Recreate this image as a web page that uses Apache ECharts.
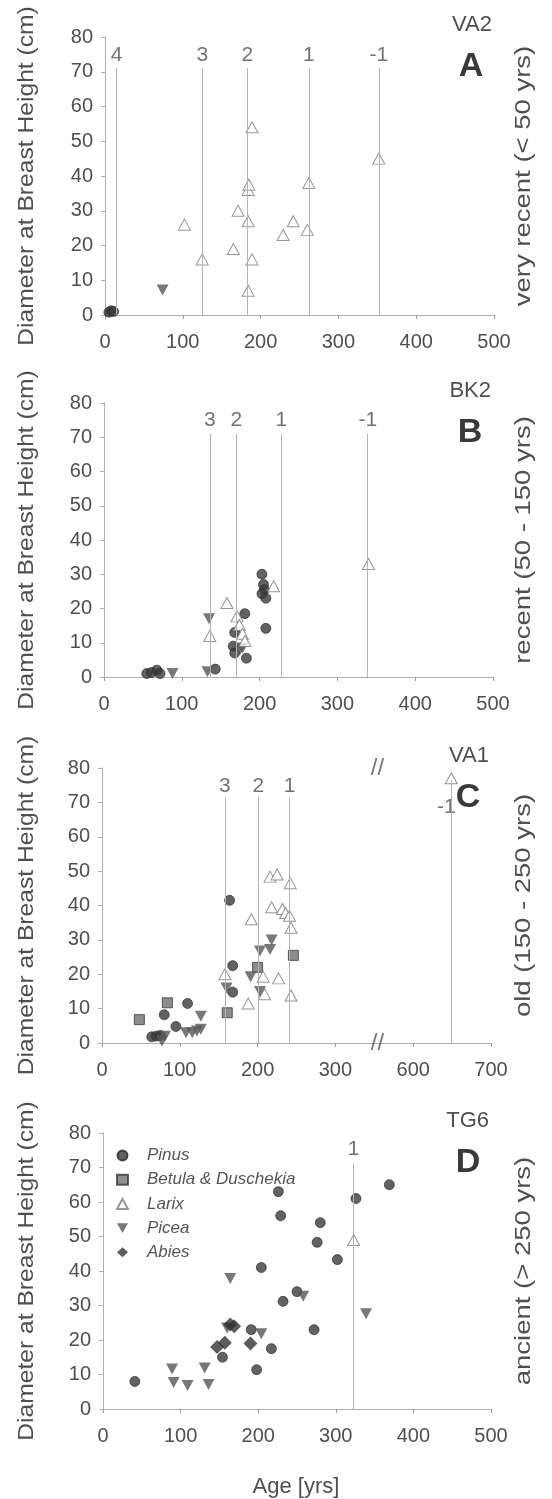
<!DOCTYPE html>
<html><head><meta charset="utf-8">
<script src="https://cdn.jsdelivr.net/npm/echarts@6/dist/echarts.min.js"></script>
<style>html,body{margin:0;padding:0;background:#fff}#c{width:552px;height:1499px}</style>
</head><body><div id="c"></div>
<script>
// ---------------- data ----------------
const ageTicks = [0, 100, 200, 300, 400, 500];
const dbhTicks = [0, 10, 20, 30, 40, 50, 60, 70, 80];
const speciesNames = ['Pinus', 'Betula & Duschekia', 'Larix', 'Picea', 'Abies'];
const siteCodes = ['VA2', 'BK2', 'VA1', 'TG6'];
const panelLetters = ['A', 'B', 'C', 'D'];
const ageClassLabels = ['very recent (< 50 yrs)', 'recent (50 - 150 yrs)', 'old (150 - 250 yrs)', 'ancient (> 250 yrs)'];
const yTitle = 'Diameter at Breast Height (cm)';
const xTitle = 'Age [yrs]';

// Panel A (VA2)
const pinusA = [[5, 0.8], [8, 1.2], [11, 1]];
const piceaA = [[74, 7.2]];
const larixA = [[102, 26], [125, 16], [165, 19], [171, 30], [184, 27], [184, 7], [184, 36], [185, 37.5], [189, 54], [189, 16], [229, 23], [242, 27], [260, 24.5], [262, 38], [352, 45]];
const lineAgesA = [15, 125, 183, 262, 352];
const lineNamesA = ['4', '3', '2', '1', '-1'];

// Panel B (BK2)
const pinusB = [[55, 1], [61, 1.3], [68, 2], [72, 1], [143, 2.3], [166, 9], [168, 7], [168, 13], [181, 18.5], [183, 5.5], [203, 30], [205, 27], [206, 25.5], [203, 24.3], [208, 23], [208, 14.2]];
const piceaB = [[88, 1], [133, 1.5], [135, 17], [175, 8], [178, 8.5]];
const larixB = [[136, 12], [158, 21.6], [171, 17.7], [174, 15.2], [178, 12.6], [181, 10.5], [218, 26.5], [340, 33]];
const lineAgesB = [136, 170, 228, 339];
const lineNamesB = ['3', '2', '1', '-1'];

// Panel C (VA1) - real ages; axis is broken between 300 and 600
const pinusC = [[64, 1.8], [70, 2], [75, 2.2], [80, 8.2], [95, 4.8], [110, 11.5], [164, 41.5], [168, 22.5], [168, 14.8]];
const betulaC = [[48, 6.8], [84, 11.7], [161, 8.8], [200, 22], [246, 25.5]];
const piceaC = [[77, 0.6], [81, 2], [108, 3], [116, 3], [122, 3.5], [127, 4], [127, 7.8], [160, 16], [191, 19.3], [203, 15], [203, 26.8], [216, 27.2], [218, 30]];
const larixC = [[158, 20], [188, 11.5], [192, 36], [207, 19.3], [209, 14.2], [216, 48.4], [225, 49], [218, 39.5], [232, 39], [236, 37.8], [227, 18.8], [241, 37], [242, 46.5], [243, 33.5], [243, 13.8], [649, 77]];
const lineAgesC = [158, 201, 241, 649];
const lineNamesC = ['3', '2', '1', '-1'];
const cAxisLabels = ['0', '100', '200', '300', '600', '700'];

// Panel D (TG6)
const pinusD = [[41, 8], [154, 15], [191, 23], [198, 11.4], [204, 41], [217, 17.5], [226, 63], [229, 56], [232, 31.2], [250, 34], [272, 23], [276, 48.3], [280, 54], [302, 43.3], [326, 61], [369, 65]];
const piceaD = [[89, 11.6], [91, 7.7], [109, 6.8], [131, 11.9], [136, 7.1], [160, 23.5], [164, 37.8], [204, 21.8], [258, 32.7], [339, 27.6]];
const abiesD = [[147, 18], [157, 19.2], [164, 24.5], [169, 24], [190, 19]];
const larixD = [[323, 49]];
const lineAgesD = [323];
const lineNamesD = ['1'];

// ---------------- helpers ----------------
const BREAK_SHIFT = 200; // ages above 550 are drawn 200 yrs to the left (axis break)
const brk = a => (a > 550 ? a - BREAK_SHIFT : a);
const mapC = arr => arr.map(p => [brk(p[0]), p[1]]);

const FONT = '"Liberation Sans", Arial, Helvetica, sans-serif';
const TXT = '#4f4f4f';
const AX = '#9c9c9c';

const grids = [
  { left: 105, top: 37, width: 389, height: 278 },
  { left: 104, top: 403, width: 389, height: 274 },
  { left: 102, top: 768, width: 389, height: 275 },
  { left: 103, top: 1133, width: 388, height: 276 }
];

const ST = {
  'Pinus': { symbol: 'circle', symbolSize: 10, itemStyle: { color: '#3b3b3b', borderColor: '#262626', borderWidth: 0.8 } },
  'Betula & Duschekia': { symbol: 'rect', symbolSize: 10, itemStyle: { color: '#717171', borderColor: '#3a3a3a', borderWidth: 1 } },
  'Larix': { symbol: 'triangle', symbolSize: [12, 11], itemStyle: { color: '#ffffff', borderColor: '#7c7c7c', borderWidth: 1 } },
  'Picea': { symbol: 'path://M0,0L20,0L10,18Z', symbolSize: [12, 11], itemStyle: { color: '#565656' } },
  'Abies': { symbol: 'diamond', symbolSize: 14, itemStyle: { color: '#333333' } }
};

const xAxes = [], yAxes = [], series = [];
grids.forEach((g, i) => {
  const isC = i === 2;
  xAxes.push({
    gridIndex: i, type: 'value', min: ageTicks[0], max: ageTicks[ageTicks.length - 1], interval: 100,
    axisLine: { lineStyle: { color: AX, width: 1 } },
    axisTick: { show: true, length: 4, lineStyle: { color: AX } },
    splitLine: { show: false },
    axisLabel: {
      fontSize: 20, color: TXT, fontFamily: FONT, margin: 17,
      formatter: v => isC ? cAxisLabels[ageTicks.indexOf(v)] : String(v)
    }
  });
  xAxes.push({
    gridIndex: i, type: 'value', position: 'top', min: 0, max: 500,
    axisLine: { lineStyle: { color: '#b0b0b0', width: 1 } },
    axisTick: { show: false }, axisLabel: { show: false }, splitLine: { show: false }
  });
  yAxes.push({
    gridIndex: i, type: 'value', min: dbhTicks[0], max: dbhTicks[dbhTicks.length - 1], interval: 10,
    axisLine: { show: true, lineStyle: { color: AX, width: 1 } },
    axisTick: { show: true, length: 4, lineStyle: { color: AX } },
    splitLine: { show: false },
    axisLabel: { fontSize: 20, color: TXT, fontFamily: FONT, margin: 12 }
  });
  yAxes.push({
    gridIndex: i, type: 'value', position: 'right', min: 0, max: 80, interval: 10,
    axisLine: { show: true, lineStyle: { color: '#b0b0b0', width: 1 } },
    axisTick: { show: true, inside: true, length: 4, lineStyle: { color: '#b0b0b0' } },
    axisLabel: { show: false }, splitLine: { show: false }
  });
});

function addScatter(name, data, gi) {
  if (!data.length) return;
  series.push(Object.assign({
    type: 'scatter', name, data, xAxisIndex: gi * 2, yAxisIndex: gi * 2, z: 3, animation: false
  }, JSON.parse(JSON.stringify(ST[name]))));
}

function addLines(ages, names, gi, tops, labelY, special) {
  const xs = ages.map(a => gi === 2 ? brk(a) : a);
  series.push({
    type: 'scatter', name: 'lines' + gi, xAxisIndex: gi * 2, yAxisIndex: gi * 2, z: 2, animation: false,
    symbolSize: 0, silent: true,
    data: xs.map((x, k) => {
      const sp = special && special[k];
      return {
        value: [x, sp ? sp.y : labelY], name: names[k],
        label: sp ? { offset: sp.offset } : undefined
      };
    }),
    label: { show: true, position: 'inside', formatter: '{b}', fontSize: 21, color: TXT, fontFamily: FONT },
    markLine: {
      silent: true, symbol: ['none', 'none'], animation: false,
      label: { show: false },
      lineStyle: { color: '#b4b4b4', width: 1, type: 'solid' },
      data: xs.map((x, k) => [{ coord: [x, 0] }, { coord: [x, tops[k]] }])
    }
  });
}

// Panel A
addScatter('Pinus', pinusA, 0);
addScatter('Picea', piceaA, 0);
addScatter('Larix', larixA, 0);
addLines(lineAgesA, lineNamesA, 0, [71, 71, 71, 71, 71], 74.8);
// Panel B
addScatter('Pinus', pinusB, 1);
addScatter('Picea', piceaB, 1);
addScatter('Larix', larixB, 1);
addLines(lineAgesB, lineNamesB, 1, [71, 71, 71, 71], 75);
// Panel C
addScatter('Pinus', pinusC, 2);
addScatter('Betula & Duschekia', betulaC, 2);
addScatter('Picea', mapC(piceaC), 2);
addScatter('Larix', mapC(larixC), 2);
addLines(lineAgesC, lineNamesC, 2, [71.5, 71.5, 71.5, 76.5], 74.8, [null, null, null, { y: 68.5, offset: [-5, 0] }]);
// axis break marks
series.push({
  type: 'scatter', name: 'break', xAxisIndex: 4, yAxisIndex: 4, symbolSize: 0, silent: true, animation: false, z: 4,
  data: [[354, 0], [354, 80]],
  label: { show: true, position: 'inside', formatter: '//', fontSize: 24, color: '#555', fontFamily: FONT }
});
// Panel D
addScatter('Pinus', pinusD, 3);
addScatter('Picea', piceaD, 3);
addScatter('Abies', abiesD, 3);
addScatter('Larix', larixD, 3);
addLines(lineAgesD, lineNamesD, 3, [71], 75.2);

// ---------------- text graphics ----------------
const graphic = [];
const yCenters = grids.map(g => g.top + g.height / 2);
yCenters.forEach((cy, i) => {
  graphic.push({
    type: 'text', x: 27, y: cy, rotation: Math.PI / 2, scaleX: 1.12, silent: true,
    style: { text: yTitle, font: '22px ' + FONT, fill: TXT, align: 'center', verticalAlign: 'middle' }
  });
  graphic.push({
    type: 'text', x: 524, y: cy, rotation: Math.PI / 2, scaleX: 1.25, silent: true,
    style: { text: ageClassLabels[i], font: '22px ' + FONT, fill: TXT, align: 'center', verticalAlign: 'middle' }
  });
  const g = grids[i];
  graphic.push({
    type: 'text', x: g.left + g.width - 2, y: g.top - 12, silent: true,
    style: { text: siteCodes[i], font: '22px ' + FONT, fill: TXT, align: 'right', verticalAlign: 'middle' }
  });
  graphic.push({
    type: 'text', x: g.left + g.width - 23, y: g.top + 30, silent: true,
    style: { text: panelLetters[i], font: 'bold 34px ' + FONT, fill: '#3a3a3a', align: 'center', verticalAlign: 'middle' }
  });
});
graphic.push({
  type: 'text', x: 296, y: 1487, silent: true,
  style: { text: xTitle, font: '22px ' + FONT, fill: TXT, align: 'center', verticalAlign: 'middle' }
});

const chart = echarts.init(document.getElementById('c'), null, { renderer: 'canvas' });
chart.setOption({
  backgroundColor: '#ffffff',
  animation: false,
  textStyle: { fontFamily: FONT },
  grid: grids,
  xAxis: xAxes,
  yAxis: yAxes,
  legend: {
    data: speciesNames, orient: 'vertical', left: 111, top: 1142, itemWidth: 11, itemHeight: 10, itemGap: 7.2,
    selectedMode: false, symbolKeepAspect: true,
    formatter: n => '{t|' + n + '}',
    textStyle: {
      color: '#555', fontFamily: FONT,
      rich: { t: { fontStyle: 'italic', fontSize: 17, lineHeight: 17, color: '#555', fontFamily: FONT, padding: [0, 0, 0, 14] } }
    }
  },
  series: series,
  graphic: graphic
});
</script></body></html>
